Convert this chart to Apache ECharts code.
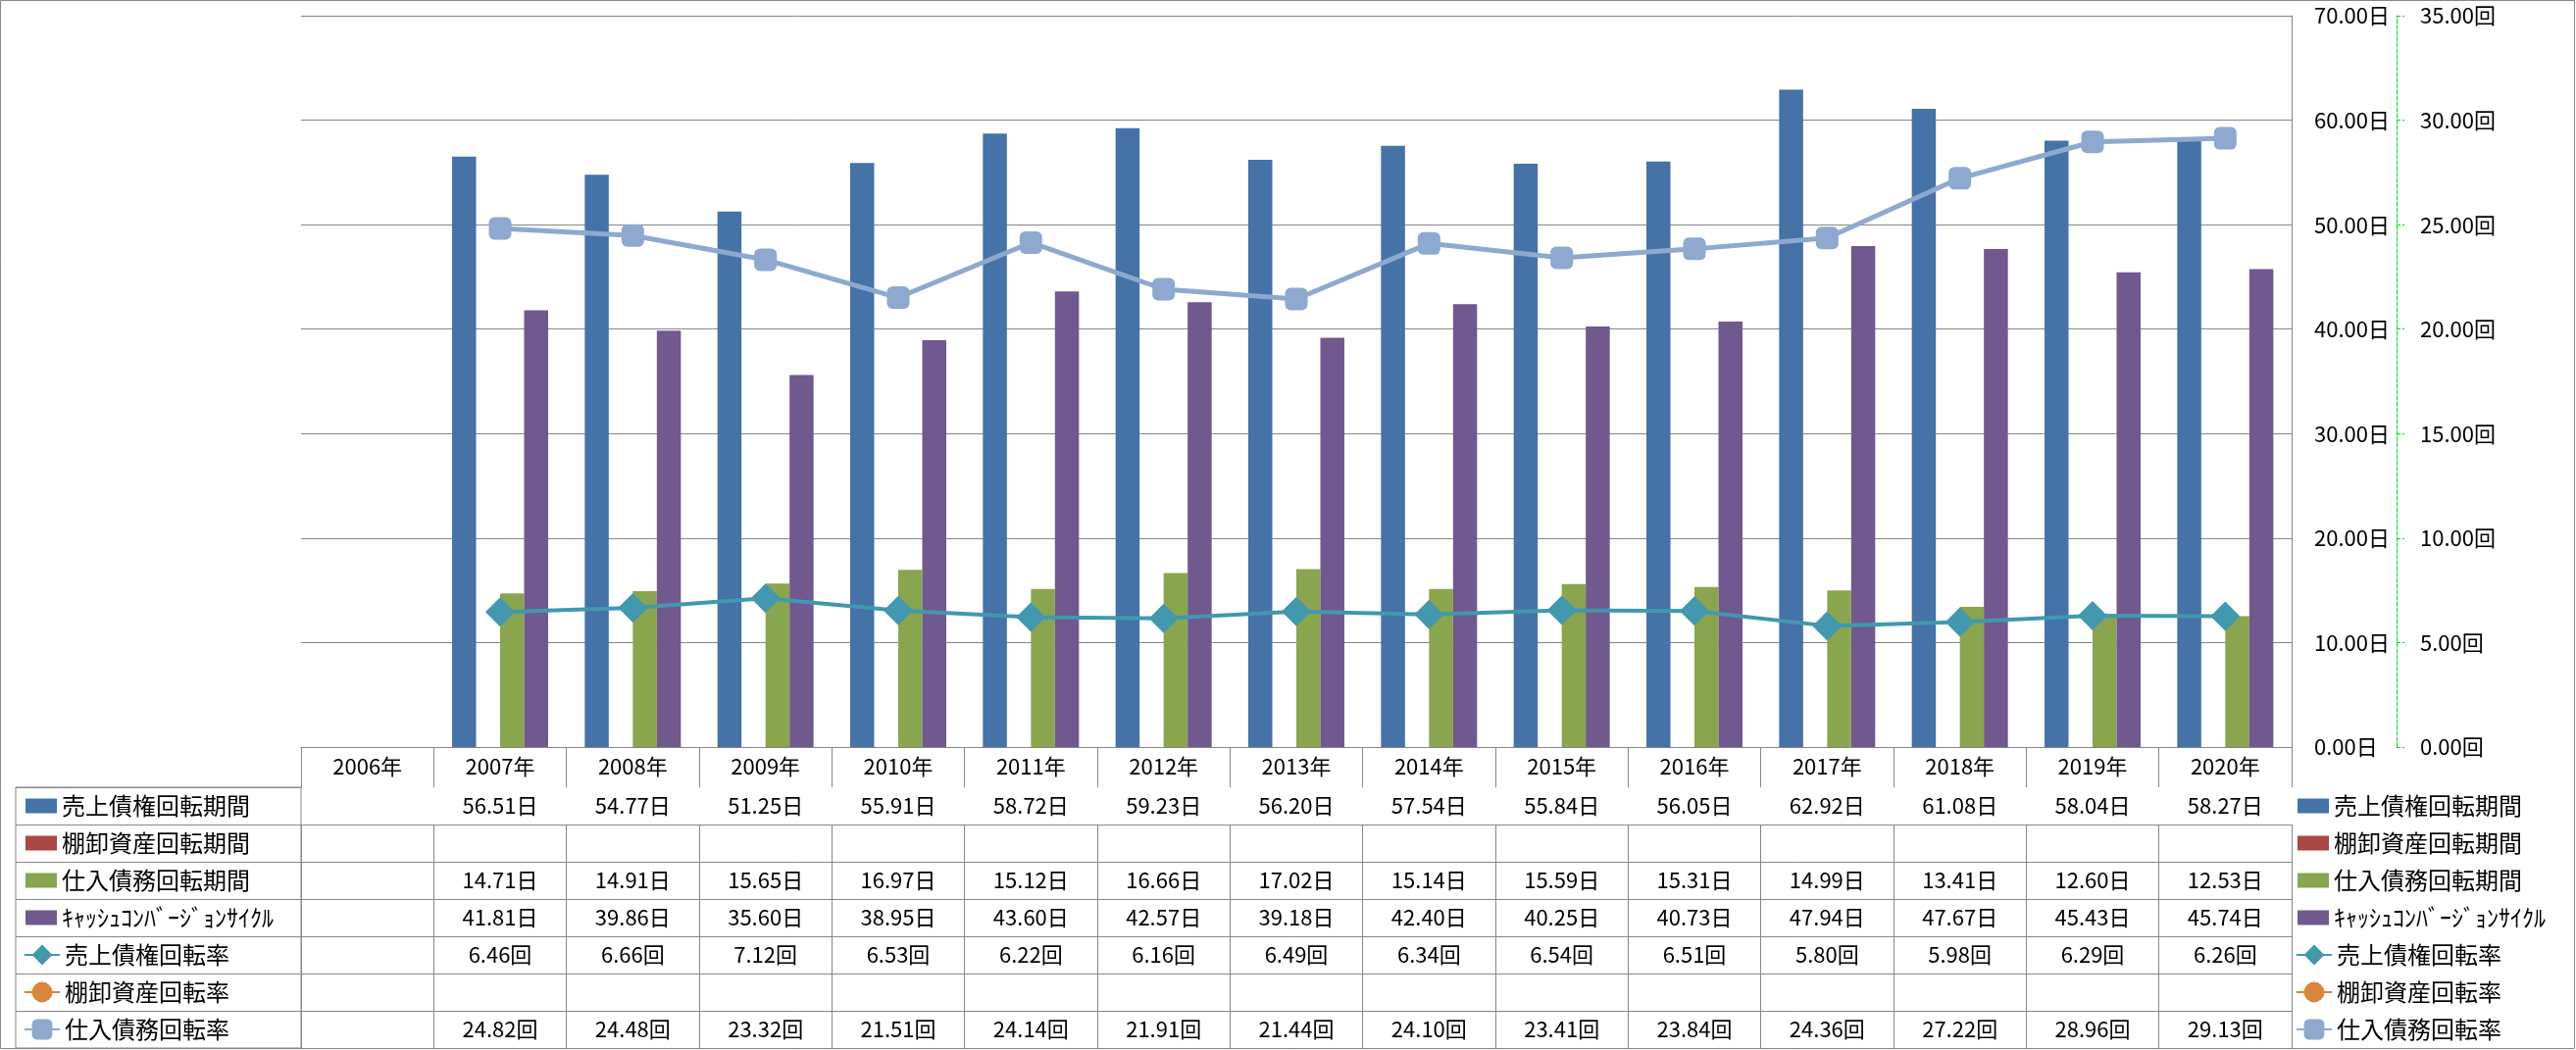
<!DOCTYPE html>
<html>
<head>
<meta charset="utf-8">
<script src="https://cdn.jsdelivr.net/npm/echarts@6/dist/echarts.min.js"></script>
<style>
html,body{margin:0;padding:0;background:#fff;}
#c{width:2627px;height:1071px;}
</style>
</head>
<body>
<div id="c"></div>
<script>
// ---- data ----
const years = ['2006年','2007年','2008年','2009年','2010年','2011年','2012年','2013年','2014年','2015年','2016年','2017年','2018年','2019年','2020年'];
const seriesNames = ['売上債権回転期間','棚卸資産回転期間','仕入債務回転期間','ｷｬｯｼｭｺﾝﾊﾞｰｼﾞｮﾝｻｲｸﾙ','売上債権回転率','棚卸資産回転率','仕入債務回転率'];
const receivableDays = [null,56.51,54.77,51.25,55.91,58.72,59.23,56.20,57.54,55.84,56.05,62.92,61.08,58.04,58.27];
const inventoryDays  = [null,null,null,null,null,null,null,null,null,null,null,null,null,null,null];
const payableDays    = [null,14.71,14.91,15.65,16.97,15.12,16.66,17.02,15.14,15.59,15.31,14.99,13.41,12.60,12.53];
const cccDays        = [null,41.81,39.86,35.60,38.95,43.60,42.57,39.18,42.40,40.25,40.73,47.94,47.67,45.43,45.74];
const receivableTurns= [null,6.46,6.66,7.12,6.53,6.22,6.16,6.49,6.34,6.54,6.51,5.80,5.98,6.29,6.26];
const inventoryTurns = [null,null,null,null,null,null,null,null,null,null,null,null,null,null,null];
const payableTurns   = [null,24.82,24.48,23.32,21.51,24.14,21.91,21.44,24.10,23.41,23.84,24.36,27.22,28.96,29.13];
const dayAxis  = {min:0, max:70, step:10, unit:'日'};
const turnAxis = {min:0, max:35, step:5, unit:'回'};

// ---- styles ----
const colors = ['#4572A7','#AA4643','#89A54E','#71588F','#4198AF','#DB843D','#8EA9D0'];
const gridColor = '#868686';
const FONT = '"Noto Sans CJK JP", "Noto Sans", sans-serif';
const GRID_L = 307, GRID_R = 2337, GRID_T = 16, GRID_B = 762;
const W = 2627, H = 1071;
const HEADER_H = 41, ROW_H = 38;

const tableRows = [
  {data: receivableDays, unit: dayAxis.unit},
  {data: inventoryDays, unit: dayAxis.unit},
  {data: payableDays, unit: dayAxis.unit},
  {data: cccDays, unit: dayAxis.unit},
  {data: receivableTurns, unit: turnAxis.unit},
  {data: inventoryTurns, unit: turnAxis.unit},
  {data: payableTurns, unit: turnAxis.unit}
];

const fmt = (v, unit) => (v == null ? '' : v.toFixed(2) + unit);

const xAxes = [{
  type: 'category', gridIndex: 0, data: years, position: 'bottom',
  axisLine: {show: true, lineStyle: {color: gridColor, width: 1}},
  axisTick: {show: true, interval: 0, length: HEADER_H, lineStyle: {color: gridColor}},
  axisLabel: {interval: 0, margin: 9, fontSize: 22, color: '#000', fontFamily: FONT},
  splitLine: {show: false}
}];
tableRows.forEach((row, i) => {
  xAxes.push({
    type: 'category', gridIndex: 0, data: years, position: 'bottom',
    offset: HEADER_H + ROW_H * i,
    axisLine: {show: true, lineStyle: {color: gridColor, width: 1}},
    axisTick: {show: true, interval: 0, length: ROW_H, lineStyle: {color: gridColor}},
    axisLabel: {interval: 0, margin: 8, fontSize: 22, color: '#000', fontFamily: FONT,
      formatter: (val, idx) => fmt(row.data[idx], row.unit)},
    splitLine: {show: false}
  });
});
xAxes.push({
  type: 'category', gridIndex: 0, data: years, position: 'bottom',
  offset: HEADER_H + ROW_H * tableRows.length,
  axisLine: {show: true, lineStyle: {color: gridColor, width: 1}},
  axisTick: {show: false}, axisLabel: {show: false}, splitLine: {show: false}
});
xAxes.push({type: 'value', gridIndex: 1, show: false, min: 0, max: 1});

const barSeries = [0,1,2,3].map(i => ({
  name: seriesNames[i], type: 'bar', xAxisIndex: 0, yAxisIndex: 0,
  data: [receivableDays, inventoryDays, payableDays, cccDays][i],
  barWidth: 24.5, barGap: '0%',
  itemStyle: {color: colors[i]}
}));
const lineDefs = [
  {i: 4, data: receivableTurns, symbol: 'diamond', size: 30, width: 4},
  {i: 5, data: inventoryTurns, symbol: 'circle', size: 20, width: 4},
  {i: 6, data: payableTurns, symbol: 'roundRect', size: 23, width: 5}
];
const lineSeries = lineDefs.map(d => ({
  name: seriesNames[d.i], type: 'line', xAxisIndex: 0, yAxisIndex: 1,
  data: d.data, symbol: d.symbol, symbolSize: d.size, showSymbol: true,
  lineStyle: {color: colors[d.i], width: d.width},
  itemStyle: {color: colors[d.i], borderWidth: 0},
  z: 3
}));

const legendBase = {
  orient: 'vertical', padding: 0, itemGap: 12, selectedMode: false,
  textStyle: {fontSize: 24, color: '#000', fontFamily: FONT, lineHeight: 26}
};
const barLegend = (left) => Object.assign({}, legendBase, {
  left: left, top: 822 - 13, itemWidth: 32, itemHeight: 15, icon: 'rect',
  data: seriesNames.slice(0, 4)
});
const lineLegend = (left) => Object.assign({}, legendBase, {
  left: left, top: 822 + ROW_H * 4 - 13, itemWidth: 36, itemHeight: 26,
  data: seriesNames.slice(4)
});

const chart = echarts.init(document.getElementById('c'));
chart.setOption({
  backgroundColor: '#fff',
  animation: false,
  textStyle: {fontFamily: FONT},
  graphic: [{type: 'rect', shape: {x: 0.5, y: 0.5, width: W - 2, height: H - 2},
    style: {fill: 'none', stroke: gridColor, lineWidth: 1}, silent: true}],
  legend: [barLegend(26), lineLegend(24), barLegend(2343), lineLegend(2341)],
  grid: [
    {left: GRID_L, top: GRID_T, width: GRID_R - GRID_L, height: GRID_B - GRID_T, containLabel: false},
    {left: 16, top: GRID_B + HEADER_H, width: GRID_L - 16, height: ROW_H * tableRows.length,
      show: true, borderColor: gridColor, borderWidth: 1, backgroundColor: 'transparent'}
  ],
  xAxis: xAxes,
  yAxis: [
    {type: 'value', gridIndex: 0, position: 'right', min: dayAxis.min, max: dayAxis.max, interval: dayAxis.step,
      axisLine: {show: true, lineStyle: {color: gridColor}},
      axisTick: {show: false},
      axisLabel: {margin: 23, fontSize: 22, color: '#000', fontFamily: FONT,
        formatter: v => v.toFixed(2) + dayAxis.unit},
      splitLine: {show: true, lineStyle: {color: gridColor, width: 1}}},
    {type: 'value', gridIndex: 0, position: 'right', offset: 107, min: turnAxis.min, max: turnAxis.max, interval: turnAxis.step,
      axisLine: {show: true, lineStyle: {color: '#00E000', type: 'dashed', width: 1}},
      axisTick: {show: true, length: 8, lineStyle: {color: '#00E000', type: 'dashed'}},
      axisLabel: {margin: 24, fontSize: 22, color: '#000', fontFamily: FONT,
        formatter: v => v.toFixed(2) + turnAxis.unit},
      splitLine: {show: false}},
    {type: 'category', gridIndex: 1, inverse: true, data: seriesNames,
      axisLine: {show: false}, axisTick: {show: false}, axisLabel: {show: false},
      splitLine: {show: true, interval: 0, lineStyle: {color: gridColor, width: 1}}}
  ],
  series: barSeries.concat(lineSeries)
});
</script>
</body>
</html>
